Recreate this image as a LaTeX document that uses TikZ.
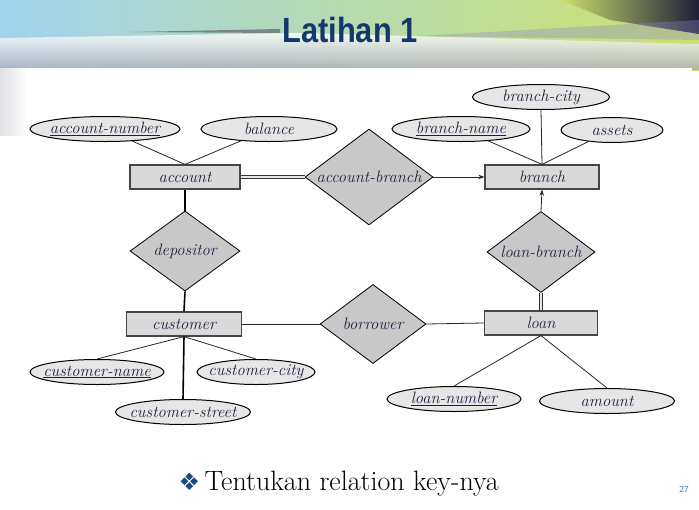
\documentclass[tikz,border=0pt]{standalone}
\usepackage{fontspec}
\newfontfamily\titlefont{Liberation Sans}
\newfontfamily\symfont{DejaVu Sans}
\usetikzlibrary{arrows.meta, positioning, shapes.geometric}
\definecolor{cent} {RGB}{217, 217, 217}
\definecolor{crel} {RGB}{200, 200, 200}
\definecolor{cattr}{RGB}{230, 230, 230}
\definecolor{cedge}{RGB}{ 70,  70,  70}
\definecolor{ctext}{RGB}{ 35,  30,  70}
\definecolor{ctitle}{RGB}{ 18,  56, 110}
\definecolor{cbullet}{RGB}{ 28,  72, 130}
\definecolor{cnum} {RGB}{ 70, 110, 165}
\definecolor{csky} {RGB}{160, 212, 238}
\definecolor{clime}{RGB}{205, 225, 110}
\definecolor{cnavy}{RGB}{ 30,  30,  55}
\definecolor{cstreak}{RGB}{170, 170, 185}
\newcommand{\erfont}{\fontsize{16.5}{19}\selectfont\itshape}
\tikzset{
  ent/.style   = {rectangle, fill=cent, draw=cedge, line width=1.2pt,
                  text=ctext, font=\erfont,
                  minimum height=24pt, inner sep=0pt},
  rel/.style   = {diamond, fill=crel, draw=black, line width=0.8pt,
                  inner sep=0pt,
                  label={[font=\erfont, text=ctext]center:#1}},
  attr/.style  = {ellipse, fill=cattr, draw=black, line width=1pt,
                  minimum height=25pt, inner sep=0pt,
                  label={[font=\erfont, text=ctext]center:#1}},
  link/.style  = {draw=black!85, line width=0.8pt},
  total/.style = {draw=black, line width=1.6pt},
  dbl/.style   = {draw=black!80, line width=0.9pt, double=cattr,
                  double distance=1.5pt},
  >={Stealth[length=6pt, width=4.5pt]}
}

\begin{document}
\begin{tikzpicture}[x=1pt, y=-1pt]
\useasboundingbox (0,0) rectangle (699,509);

% ── Slide banner ───────────────────────────────────────────────────────────
\shade[left color=csky, middle color=white, right color=clime]
  (0,0) rectangle (699,70);
\shade[left color=clime, right color=cnavy]
  (560,0) -- (699,0) -- (699,34) -- (610,20) -- cycle;
\shade[top color=white, bottom color=cstreak, opacity=0.8]
  (0,38) -- (300,33) -- (699,44) -- (699,70) -- (0,70) -- cycle;
\fill[cnavy!70, opacity=0.7] (130,32) -- (280,29) -- (280,33) -- cycle;
\fill[cstreak!80!blue, opacity=0.35] (420,36) -- (699,20) -- (699,40) -- cycle;
\shade[left color=cstreak!35, right color=white] (0,68) rectangle (28,135);
\fill[white] (28,68) rectangle (692,509);

\node[font=\titlefont\bfseries\fontsize{35}{40}\selectfont, text=ctitle,
      anchor=base, xscale=0.88, transform shape] (title) at (350,42) {Latihan 1};

% ── Entity sets ────────────────────────────────────────────────────────────
\node[ent, minimum width=110pt] (account)  at (185,177) {account};
\node[ent, minimum width=114pt] (branch)   at (542,177) {branch};
\node[ent, minimum width=115pt] (customer) at (184,324) {customer};
\node[ent, minimum width=113pt] (loan)     at (541,323) {loan};

% ── Relationship sets ──────────────────────────────────────────────────────
\node[rel=account-branch, minimum width=128pt, minimum height=96pt] (accbr) at (369,177) {};
\node[rel=depositor,      minimum width=110pt, minimum height=80pt] (depo)  at (185,251) {};
\node[rel=loan-branch,    minimum width=108pt, minimum height=81pt] (loanbr) at (541,252) {};
\node[rel=borrower,       minimum width=106pt, minimum height=79pt] (borr)  at (373,324) {};

% ── Attributes ─────────────────────────────────────────────────────────────
\node[attr=\underline{account-number}, minimum width=150pt] (accnum)  at (105,129) {};
\node[attr=balance,                    minimum width=136pt] (bal)     at (269,129) {};
\node[attr=branch-city,                minimum width=137pt] (bcity)   at (541,97)  {};
\node[attr=\underline{branch-name},    minimum width=138pt] (bname)   at (461,129) {};
\node[attr=assets,                     minimum width=102pt] (assets)  at (612,130) {};
\node[attr=\underline{customer-name},  minimum width=134pt] (cname)   at (97,372)  {};
\node[attr=customer-city,              minimum width=118pt] (ccity)   at (256,372) {};
\node[attr=customer-street,            minimum width=135pt] (cstreet) at (183,412) {};
\node[attr=\underline{loan-number},    minimum width=134pt] (lnum)    at (454,399) {};
\node[attr=amount,                     minimum width=135pt] (amount)  at (607,401) {};

% ── Attribute links ────────────────────────────────────────────────────────
\foreach \a in {accnum, bal}
  \draw[link] (\a) -- (account.north);
\foreach \a in {bname, assets}
  \draw[link] (\a) -- (branch.north);
\draw[link] (bcity.south) -- (branch.north);
\foreach \a in {cname, ccity}
  \draw[link] (\a.north) -- (customer.south);
\draw[total] (customer.south) -- (cstreet.north);
\foreach \a in {lnum, amount}
  \draw[link] (\a.north) -- (loan.south);

% ── Relationship links ─────────────────────────────────────────────────────
\draw[dbl]   (account.east) -- (accbr.west);
\draw[link, ->] (accbr.east) -- (branch.west);
\draw[total] (account.south) -- (depo.north);
\draw[total] (depo.south) -- (customer.north);
\draw[link]  (customer.east) -- (borr.west);
\draw[link]  (borr.east) -- (loan.west);
\draw[dbl]   (loan.north) -- (loanbr.south);
\draw[link, ->] (loanbr.north) -- (branch.south);

% ── Task line and page number ──────────────────────────────────────────────
\node[font=\fontsize{28}{32}\selectfont, anchor=base west] (task) at (175,490)
  {{\symfont\fontsize{24}{28}\selectfont\color{cbullet}❖}\,Tentukan relation key-nya};
\node[font=\sffamily\fontsize{9}{10}\selectfont, text=cnum] (pageno) at (684,489) {27};

\end{tikzpicture}
\end{document}
